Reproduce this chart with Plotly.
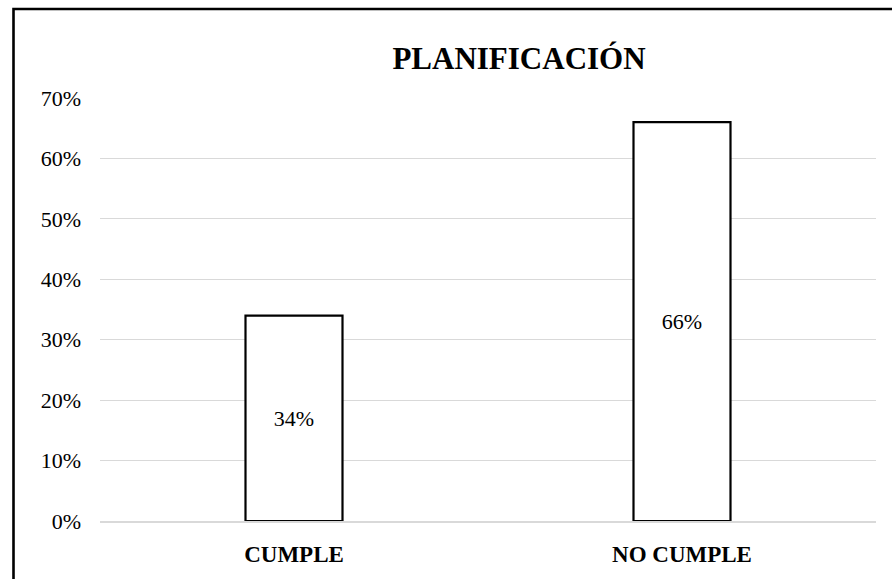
import plotly.graph_objects as go

categories = ["CUMPLE", "NO CUMPLE"]
shares = [0.34, 0.66]
y_ticks = [0, 0.1, 0.2, 0.3, 0.4, 0.5, 0.6, 0.7]
y_tick_labels = ["0%", "10%", "20%", "30%", "40%", "50%", "60%", "70%"]

W, H = 892, 579
ML, MR, MT, MB = 100, 16, 98, 53
serif = "Liberation Serif"

fig = go.Figure(
    go.Bar(
        x=categories,
        y=shares,
        width=0.25,
        marker=dict(color="white", line=dict(color="black", width=2.2)),
        texttemplate="%{y:.0%}",
        textposition="inside",
        insidetextanchor="middle",
        textfont=dict(family=serif, size=22, color="black"),
        hoverinfo="skip",
    )
)

# frame around the chart area (left and top edges)
pw, ph = W - ML - MR, H - MT - MB
x_frame = (13.5 - ML) / pw
y_frame = (H - MB - 8) / ph
fig.add_shape(
    type="path",
    xref="paper", yref="paper",
    path=f"M {x_frame},{-MB / ph - 0.05} L {x_frame},{y_frame} L {(W - ML + 5) / pw},{y_frame}",
    line=dict(color="black", width=2.6),
)

fig.update_layout(
    width=W, height=H,
    margin=dict(l=ML, r=MR, t=MT, b=MB),
    paper_bgcolor="white",
    plot_bgcolor="white",
    showlegend=False,
    font=dict(family=serif, color="black"),
    title=dict(
        text="<b>PLANIFICACIÓN</b>",
        font=dict(family=serif, size=31, color="black"),
        xref="paper", x=(519 - ML) / pw, xanchor="center",
        yref="container", y=1 - 58 / H, yanchor="middle",
    ),
    bargap=0.75,
)
fig.update_yaxes(
    range=[0, 0.7],
    tickvals=y_ticks,
    ticktext=y_tick_labels,
    tickfont=dict(family=serif, size=22, color="black"),
    showgrid=True,
    gridcolor="#d9d9d9",
    gridwidth=1.4,
    zeroline=False,
    showline=False,
    ticks="",
    ticklabelstandoff=18,
)
fig.update_xaxes(
    tickfont=dict(family=serif, size=23, color="black"),
    tickprefix="<b>", ticksuffix="</b>",
    showline=True,
    linecolor="#d9d9d9",
    linewidth=1.6,
    layer="above traces",
    ticks="",
    ticklabelstandoff=12,
)

fig.write_html("out.html")
